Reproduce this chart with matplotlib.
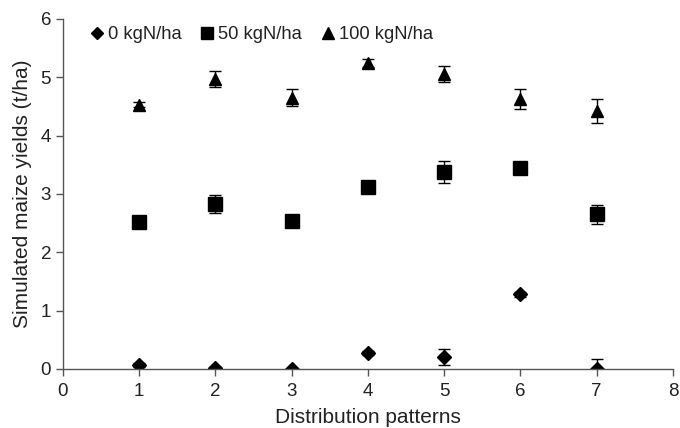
import matplotlib
matplotlib.use("Agg")
import matplotlib.pyplot as plt
from matplotlib.lines import Line2D

plt.rcParams['font.family'] = ['Liberation Sans', 'DejaVu Sans']

patterns = [1, 2, 3, 4, 5, 6, 7]
y0 = [0.07, 0.01, 0.0, 0.27, 0.21, 1.28, 0.0]
e0 = [0.03, 0.02, 0.02, 0.03, 0.14, 0.04, 0.17]
y50 = [2.51, 2.83, 2.53, 3.12, 3.38, 3.44, 2.65]
e50 = [0.05, 0.15, 0.10, 0.05, 0.19, 0.05, 0.16]
y100 = [4.53, 4.97, 4.65, 5.25, 5.06, 4.62, 4.42]
e100 = [0.04, 0.14, 0.14, 0.07, 0.14, 0.17, 0.21]
labels = ['0 kgN/ha', '50 kgN/ha', '100 kgN/ha']

fig = plt.figure(figsize=(6.8, 4.28), dpi=100)
ax = fig.add_axes([0.0926, 0.138, 0.897, 0.818])

for y, e, m, ms, lab in [(y0, e0, 'D', 7.5, labels[0]),
                         (y50, e50, 's', 9.5, labels[1]),
                         (y100, e100, '^', 9, labels[2])]:
    ax.errorbar(patterns, y, yerr=e, fmt=m, color='black', ms=ms,
                ecolor='black', elinewidth=1, capsize=4, capthick=1, label=lab)

ax.set_xlim(0, 8)
ax.set_ylim(0, 6)
ax.set_xticks(range(0, 9))
ax.set_yticks(range(0, 7))
for s in ['top', 'right']:
    ax.spines[s].set_visible(False)
for s in ['left', 'bottom']:
    ax.spines[s].set_color('#555555')
    ax.spines[s].set_linewidth(1)
ax.tick_params(axis='both', direction='out', length=5, width=1, color='#555555',
               labelsize=13.5, labelcolor='#222222')
ax.tick_params(axis='x', pad=5)
ax.set_xlabel('Distribution patterns', fontsize=15, color='#222222', labelpad=6)
ax.set_ylabel('Simulated maize yields (t/ha)', fontsize=15, color='#222222', labelpad=6)

hs = [Line2D([], [], marker=m, color='black', ls='none', ms=ms)
      for m, ms in [('D', 6.5), ('s', 8), ('^', 8)]]
ax.legend(hs, labels, loc='upper left', ncol=3, frameon=False, fontsize=13.2,
          handletextpad=0.1, columnspacing=0.9, handlelength=1.0,
          bbox_to_anchor=(0.02, 1.016), borderaxespad=0.3, labelcolor='#222222')

fig.savefig('out.png', dpi=100)
